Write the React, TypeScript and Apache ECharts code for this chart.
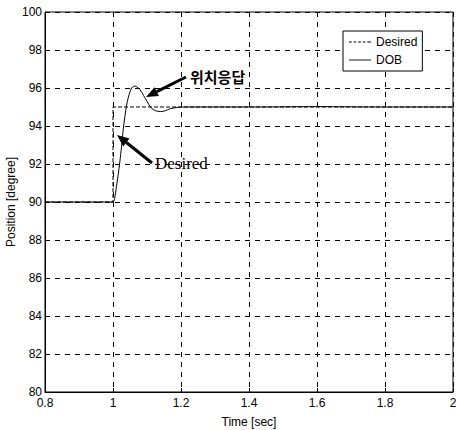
import React, { useEffect, useRef } from "react";
import * as echarts from "echarts";

const xTicks = [0.8, 1, 1.2, 1.4, 1.6, 1.8, 2];
const yTicks = [80, 82, 84, 86, 88, 90, 92, 94, 96, 98, 100];

const desiredT = [0.8, 1.0, 1.0, 2.0];
const desiredV = [90, 90, 95, 95];

const dobT = [0.8, 1.0, 1.005, 1.01, 1.015, 1.02, 1.025, 1.03, 1.035, 1.04, 1.045, 1.05, 1.055, 1.06, 1.065, 1.07, 1.08, 1.09, 1.1, 1.11, 1.12, 1.13, 1.14, 1.15, 1.16, 1.17, 1.19, 1.21, 1.4, 1.6, 1.8, 2.0];
const dobV = [90, 90, 90.2, 90.8, 91.4, 92.1, 92.9, 93.8, 94.5, 95.1, 95.5, 95.8, 96.0, 96.08, 96.1, 96.06, 95.9, 95.6, 95.3, 95.0, 94.85, 94.78, 94.76, 94.78, 94.85, 94.92, 94.98, 95.0, 95.0, 95.02, 95.0, 95.0];

const seriesNames = ["Desired", "DOB"];
const annotKo = "위치응답";
const annotEn = "Desired";

export default function App() {
  const ref = useRef<HTMLDivElement>(null);
  useEffect(() => {
    if (!ref.current) return;
    const chart = echarts.init(ref.current, undefined, { renderer: "svg" });
    const font = "'Liberation Sans', Arial, sans-serif";
    const arrow = (x1: number, y1: number, x2: number, y2: number) => {
      const dx = x2 - x1, dy = y2 - y1;
      const len = Math.sqrt(dx * dx + dy * dy);
      const ux = dx / len, uy = dy / len;
      const hl = 12, hw = 5;
      const bx = x2 - ux * hl, by = y2 - uy * hl;
      return [
        { type: "line", shape: { x1, y1, x2: bx, y2: by }, style: { stroke: "#000", lineWidth: 3 } },
        {
          type: "polygon",
          shape: { points: [[x2, y2], [bx - uy * hw, by + ux * hw], [bx + uy * hw, by - ux * hw]] },
          style: { fill: "#000" },
        },
      ];
    };
    chart.setOption({
      animation: false,
      backgroundColor: "#fff",
      grid: { left: 45, right: 3, top: 12, bottom: 38, show: true, borderColor: "#000", borderWidth: 1, containLabel: false, outerBoundsMode: "none" },
      xAxis: {
        type: "value",
        min: 0.8,
        max: 2,
        interval: 0.2,
        name: "Time [sec]",
        nameLocation: "middle",
        nameGap: 24,
        nameMoveOverlap: false,
        nameTextStyle: { fontFamily: font, fontSize: 12, color: "#000" },
        axisLine: { show: true, lineStyle: { color: "#000" } },
        axisTick: { show: true, inside: true, length: 4, lineStyle: { color: "#000" } },
        axisLabel: {
          color: "#000",
          fontFamily: font,
          fontSize: 12,
          margin: 5,
          formatter: (v: number) => {
            const m = xTicks.find((t) => Math.abs(t - v) < 1e-6);
            return m === undefined ? "" : String(m);
          },
        },
        splitLine: { show: true, lineStyle: { color: "#000", type: [5, 5], width: 1 } },
      },
      yAxis: {
        type: "value",
        min: 80,
        max: 100,
        interval: 2,
        name: "Position [degree]",
        nameLocation: "middle",
        nameGap: 28,
        nameMoveOverlap: false,
        nameTextStyle: { fontFamily: font, fontSize: 12, color: "#000" },
        axisLine: { show: true, lineStyle: { color: "#000" } },
        axisTick: { show: true, inside: true, length: 4, lineStyle: { color: "#000" } },
        axisLabel: {
          color: "#000",
          fontFamily: font,
          fontSize: 12,
          margin: 3,
          formatter: (v: number) => (yTicks.includes(Math.round(v)) ? String(Math.round(v)) : ""),
        },
        splitLine: { show: true, lineStyle: { color: "#000", type: [5, 5], width: 1 } },
      },
      legend: {
        show: true,
        left: 343,
        top: 31,
        orient: "vertical",
        backgroundColor: "#fff",
        borderColor: "#000",
        borderWidth: 1,
        borderRadius: 0,
        padding: [5, 5, 5, 6],
        itemGap: 6,
        itemWidth: 22,
        itemHeight: 2,
        textStyle: { fontFamily: font, fontSize: 12, color: "#000" },
        data: [
          { name: seriesNames[0], icon: "path://M0,0 L3,0 L3,1 L0,1 Z M5,0 L8,0 L8,1 L5,1 Z M10,0 L13,0 L13,1 L10,1 Z M15,0 L18,0 L18,1 L15,1 Z M20,0 L24,0 L24,1 L20,1 Z" },
          { name: seriesNames[1], icon: "path://M0,0 L24,0 L24,1 L0,1 Z" },
        ],
      },
      series: [
        {
          name: seriesNames[0],
          type: "line",
          data: desiredT.map((t, i) => [t, desiredV[i]]),
          showSymbol: false,
          lineStyle: { color: "#000", width: 1, type: [4, 2] },
          itemStyle: { color: "#000" },
        },
        {
          name: seriesNames[1],
          type: "line",
          data: dobT.map((t, i) => [t, dobV[i]]),
          showSymbol: false,
          smooth: 0.3,
          lineStyle: { color: "#000", width: 1 },
          itemStyle: { color: "#000" },
        },
      ],
      graphic: [
        ...arrow(186, 77, 146, 97),
        ...arrow(152, 163, 117, 135),
        {
          type: "text",
          x: 190,
          y: 76,
          style: { text: annotKo, font: "bold 15px 'Noto Sans CJK KR'", fill: "#000", textVerticalAlign: "middle" },
        },
        {
          type: "text",
          x: 155,
          y: 163,
          style: { text: annotEn, font: "17px 'Liberation Serif', serif", fill: "#000", textVerticalAlign: "middle" },
        },
      ],
    });
    return () => chart.dispose();
  }, []);
  return <div ref={ref} style={{ position: "fixed", left: 0, top: 0, width: 456, height: 430, background: "#fff" }} />;
}
